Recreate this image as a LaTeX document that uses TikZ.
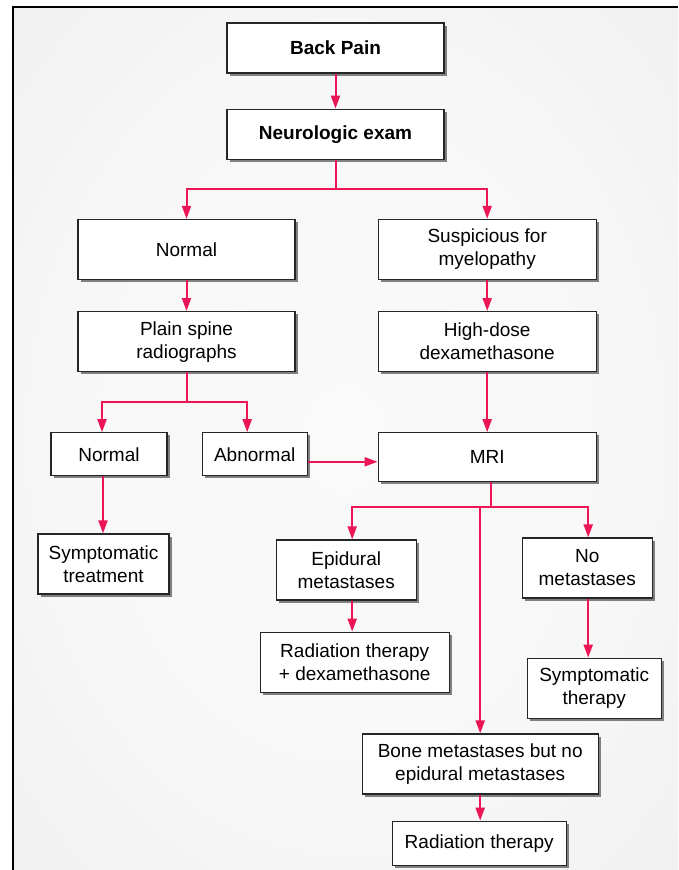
\documentclass[tikz,border=0pt]{standalone}
\usepackage{fontspec}
\setmainfont{Liberation Sans}
\usetikzlibrary{positioning, arrows.meta, shadows}

\definecolor{flowred}{RGB}{236,22,86}
\pgfdeclareradialshading{panelshade}{\pgfpoint{0bp}{0bp}}{color(0bp)=(white!98!black); color(20bp)=(white!97!black); color(50bp)=(white!92!black); color(72bp)=(white!89!black)}

\tikzset{
  box/.style={draw=black!85, line width=1.2pt, fill=white, align=center, inner sep=0pt,
    font=\fontsize{19pt}{23pt}\selectfont,
    drop shadow={shadow xshift=2.5pt, shadow yshift=-2.5pt, fill=black!50, opacity=1}},
  boldbox/.style={box, font=\fontsize{19pt}{23pt}\selectfont\bfseries},
  link/.style={draw=flowred, line width=2pt},
  arr/.style={link, -{Triangle[length=13pt,width=9pt]}}
}

\begin{document}
\begin{tikzpicture}
\useasboundingbox (0,0) rectangle (678pt,-870pt);
\shade[shading=panelshade] (13pt,-7pt) rectangle (678pt,-870pt);
\draw[line width=1.5pt] (13pt,-870pt) -- (13pt,-7pt) -- (678pt,-7pt);

\node (back) [boldbox, minimum width=217pt, minimum height=50pt] at (335.5pt,-48pt) {Back Pain};
\node (neuro) [boldbox, minimum width=217pt, minimum height=50pt, below=35pt of back] {Neurologic exam};
\node (normal) [box, minimum width=217pt, minimum height=60pt, below=59pt of neuro, xshift=-149pt] {Normal};
\node (susp) [box, minimum width=218pt, minimum height=60pt, right=82pt of normal] {Suspicious for\\myelopathy};
\node (plain) [box, minimum width=217pt, minimum height=60pt, below=31pt of normal] {Plain spine\\radiographs};
\node (highdose) [box, minimum width=218pt, minimum height=60pt, below=31pt of susp] {High-dose\\dexamethasone};
\node (normaltwo) [box, minimum width=116pt, minimum height=43pt, below=60pt of plain, xshift=-77.5pt] {Normal};
\node (abnormal) [box, minimum width=105pt, minimum height=43pt, right=34pt of normaltwo] {Abnormal};
\node (mri) [box, minimum width=218pt, minimum height=49pt, below=60pt of highdose] {MRI};
\node (symptreat) [box, minimum width=131pt, minimum height=60pt, below=57pt of normaltwo, xshift=-5.5pt] {Symptomatic\\treatment};
\node (epidural) [box, minimum width=140pt, minimum height=60pt, below=57pt of mri, xshift=-141pt] {Epidural\\metastases};
\node (nomet) [box, minimum width=130pt, minimum height=60pt, below=55pt of mri, xshift=100pt] {No\\metastases};
\node (raddex) [box, minimum width=189pt, minimum height=60pt, below=31pt of epidural, xshift=8.5pt] {Radiation therapy\\+ dexamethasone};
\node (sympther) [box, minimum width=134pt, minimum height=60pt, below=59pt of nomet, xshift=7pt] {Symptomatic\\therapy};
\node (bone) [box, minimum width=236pt, minimum height=60pt, below=251pt of mri, xshift=-7pt] {Bone metastases but no\\epidural metastases};
\node (radther) [box, minimum width=174pt, minimum height=44pt, below=26pt of bone, xshift=-1pt] {Radiation therapy};

\coordinate (split1) at ([yshift=-29pt]neuro.south);
\coordinate (split2) at ([yshift=-30pt]plain.south);
\coordinate (split3) at ([xshift=4pt,yshift=-25pt]mri.south);

\draw[arr] (back) -- (neuro);
\draw[link] (neuro.south) -- (split1);
\draw[arr] (split1) -| (normal.north);
\draw[arr] (split1) -| (susp.north);
\draw[arr] (normal) -- (plain);
\draw[arr] (susp) -- (highdose);
\draw[link] (plain.south) -- (split2);
\draw[arr] (split2) -| ([xshift=-7pt]normaltwo.north);
\draw[arr] (split2) -| ([xshift=-7.5pt]abnormal.north);
\draw[arr] ([xshift=-6pt]normaltwo.south) -- ([xshift=-6pt]normaltwo.south |- symptreat.north);
\draw[arr] ([yshift=-7.5pt]abnormal.east) -- ([yshift=-7.5pt]abnormal.east -| mri.west);
\draw[arr] (highdose) -- (mri);
\draw[link] ([xshift=4pt]mri.south) -- (split3);
\draw[arr] (split3) -| ([xshift=6pt]epidural.north);
\draw[arr] (split3) -| ([xshift=1pt]nomet.north);
\draw[arr] (bone.north |- split3) -- (bone.north);
\draw[arr] ([xshift=6pt]epidural.south) -- ([xshift=6pt]epidural.south |- raddex.north);
\draw[arr] ([xshift=1pt]nomet.south) -- ([xshift=1pt]nomet.south |- sympther.north);
\draw[arr] (bone.south) -- (bone.south |- radther.north);
\end{tikzpicture}
\end{document}
